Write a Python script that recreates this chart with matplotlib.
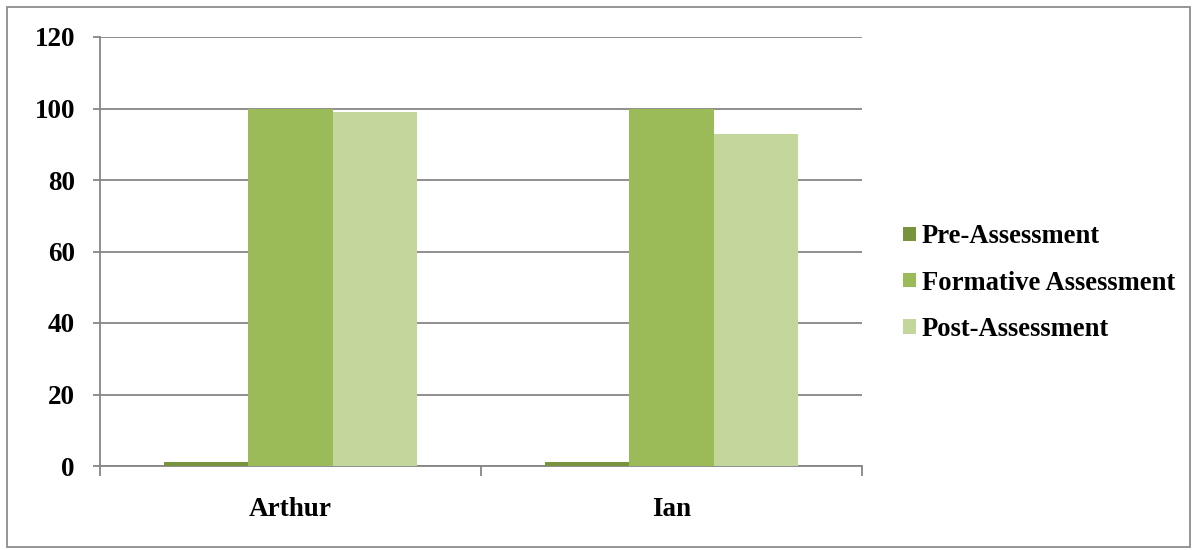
import matplotlib
matplotlib.use("Agg")
import matplotlib.pyplot as plt
from matplotlib.patches import Rectangle
import numpy as np

students = ["Arthur", "Ian"]
series_names = ["Pre-Assessment", "Formative Assessment", "Post-Assessment"]
pre_scores = [1, 1]
formative_scores = [100, 100]
post_scores = [99, 93]
y_ticks = [0, 20, 40, 60, 80, 100, 120]

colors = ["#77933C", "#9BBB59", "#C3D69B"]
grid_color = "#868686"
font_size = 19.5
legend_font_size = 19.2

plt.rcParams["font.family"] = ["Liberation Serif", "DejaVu Serif"]
plt.rcParams["font.weight"] = "bold"

fig = plt.figure(figsize=(11.98, 5.5), dpi=100)
W, H = 1198, 550
ax = fig.add_axes([100 / W, (H - 466) / H, (862 - 100) / W, (466 - 37) / H])

x = np.arange(len(students))
bw = 0.222
for i, (vals, name) in enumerate(zip([pre_scores, formative_scores, post_scores], series_names)):
    ax.bar(x + (i - 1) * bw, vals, width=bw, color=colors[i], label=name, zorder=3)

ax.set_xlim(-0.5, len(students) - 0.5)
ax.set_ylim(0, 120)
ax.set_yticks(y_ticks)
ax.set_yticklabels([str(t) for t in y_ticks], fontsize=font_size, fontweight="bold")
ax.set_xticks(x)
ax.set_xticklabels(students, fontsize=font_size, fontweight="bold")
ax.tick_params(axis="x", length=0, pad=22)
ax.tick_params(axis="y", length=5, width=1.3, color=grid_color, pad=13)

# category separators on the x axis
ax.set_xticks(np.arange(-0.5, len(students)), minor=True)
ax.tick_params(axis="x", which="minor", length=7, width=1.3, color=grid_color)

ax.yaxis.grid(True, color=grid_color, linewidth=1.3, zorder=0)
for s in ["top", "right"]:
    ax.spines[s].set_visible(False)
for s in ["left", "bottom"]:
    ax.spines[s].set_color(grid_color)
    ax.spines[s].set_linewidth(1.3)

leg = fig.legend(loc="center left", bbox_to_anchor=(903 / W, (H - 283) / H),
                 frameon=False, fontsize=legend_font_size, handlelength=0.48, handleheight=0.48,
                 handletextpad=0.22, labelspacing=0.79, borderaxespad=0, borderpad=0)
for t in leg.get_texts():
    t.set_fontweight("bold")

fig.patches.append(Rectangle((7 / W, 3 / H), (1190 - 7) / W, (543 - 3) / H,
                             transform=fig.transFigure, fill=False,
                             edgecolor="#8C8C8C", linewidth=1.3))

fig.savefig("out.png", dpi=100)
